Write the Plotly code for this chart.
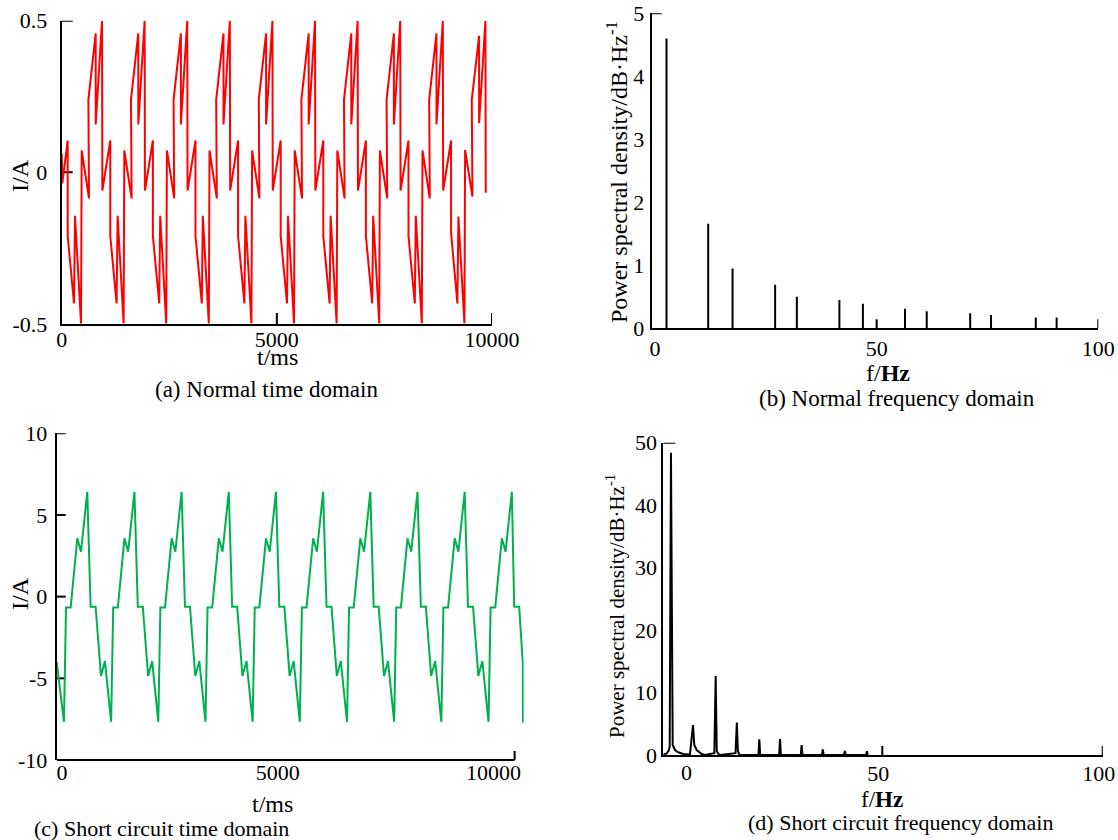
import plotly.graph_objects as go

W, H = 1118, 840
FONT = 'Liberation Serif'

# (a) normal current in the time domain, one row per cycle
NORMAL_T_MS = [
    0, 14,
    139, 139, 286, 309, 449, 465, 635, 620, 790, 790, 937, 945,
    1129, 1129, 1276, 1299, 1439, 1455, 1625, 1610, 1780, 1780, 1927, 1935,
    2119, 2119, 2266, 2289, 2429, 2445, 2615, 2600, 2770, 2770, 2917, 2925,
    3109, 3109, 3256, 3279, 3419, 3435, 3605, 3590, 3760, 3760, 3907, 3915,
    4099, 4099, 4246, 4269, 4409, 4425, 4595, 4580, 4750, 4750, 4897, 4905,
    5089, 5089, 5236, 5259, 5399, 5415, 5585, 5570, 5740, 5740, 5887, 5895,
    6079, 6079, 6226, 6249, 6389, 6405, 6575, 6560, 6730, 6730, 6877, 6885,
    7069, 7069, 7216, 7239, 7379, 7395, 7565, 7550, 7720, 7720, 7867, 7875,
    8059, 8059, 8206, 8229, 8369, 8385, 8555, 8540, 8710, 8710, 8857, 8865,
    9049, 9049, 9196, 9219, 9359, 9375, 9545, 9530, 9700, 9700, 9847, 9855,
]
NORMAL_I_A = [
    0.063, -0.036,
    0.105, -0.21, -0.432, -0.143, -0.498, 0.072, -0.086, 0.239, 0.458, 0.158, 0.5, -0.06,
    0.105, -0.21, -0.432, -0.143, -0.498, 0.072, -0.086, 0.239, 0.458, 0.158, 0.5, -0.06,
    0.105, -0.21, -0.432, -0.143, -0.498, 0.072, -0.086, 0.239, 0.458, 0.158, 0.5, -0.06,
    0.105, -0.21, -0.432, -0.143, -0.498, 0.072, -0.086, 0.239, 0.458, 0.158, 0.5, -0.06,
    0.105, -0.21, -0.432, -0.143, -0.498, 0.072, -0.086, 0.239, 0.458, 0.158, 0.5, -0.06,
    0.105, -0.21, -0.432, -0.143, -0.498, 0.072, -0.086, 0.239, 0.458, 0.158, 0.5, -0.06,
    0.105, -0.21, -0.432, -0.143, -0.498, 0.072, -0.086, 0.239, 0.458, 0.158, 0.5, -0.06,
    0.105, -0.21, -0.432, -0.143, -0.498, 0.072, -0.086, 0.239, 0.458, 0.158, 0.5, -0.06,
    0.105, -0.21, -0.432, -0.143, -0.498, 0.072, -0.086, 0.239, 0.458, 0.158, 0.5, -0.06,
    0.105, -0.2, -0.432, -0.146, -0.498, 0.074, -0.08, 0.239, 0.45, 0.162, 0.5, -0.067,
]

# (c) short circuit current in the time domain
SHORT_T_MS = [
    -120,
    48, 96, 204, 357, 443, 588, 666, 782, 905, 998,
    1141, 1189, 1297, 1450, 1536, 1681, 1759, 1875, 1998, 2091,
    2234, 2282, 2390, 2543, 2629, 2774, 2852, 2968, 3091, 3184,
    3327, 3375, 3483, 3636, 3722, 3867, 3945, 4061, 4184, 4277,
    4420, 4468, 4576, 4729, 4815, 4960, 5038, 5154, 5277, 5370,
    5513, 5561, 5669, 5822, 5908, 6053, 6131, 6247, 6370, 6463,
    6606, 6654, 6762, 6915, 7001, 7146, 7224, 7340, 7463, 7556,
    7699, 7747, 7855, 8008, 8094, 8239, 8317, 8433, 8556, 8649,
    8792, 8840, 8948, 9101, 9187, 9332, 9410, 9526, 9649, 9742,
    9885, 9933, 10041, 10194, 10280, 10425, 10480, 10595, 10680, 10684,
]
SHORT_I_A = [
    -4.0,
    -7.66, -0.66, -0.66, 3.57, 2.75, 6.42, -0.62, -0.62, -4.85, -3.95,
    -7.66, -0.66, -0.66, 3.57, 2.75, 6.42, -0.62, -0.62, -4.85, -3.95,
    -7.66, -0.66, -0.66, 3.57, 2.75, 6.42, -0.62, -0.62, -4.85, -3.95,
    -7.66, -0.66, -0.66, 3.57, 2.75, 6.42, -0.62, -0.62, -4.85, -3.95,
    -7.66, -0.66, -0.66, 3.57, 2.75, 6.42, -0.62, -0.62, -4.85, -3.95,
    -7.66, -0.66, -0.66, 3.57, 2.75, 6.42, -0.62, -0.62, -4.85, -3.95,
    -7.66, -0.66, -0.66, 3.57, 2.75, 6.42, -0.62, -0.62, -4.85, -3.95,
    -7.66, -0.66, -0.66, 3.57, 2.75, 6.42, -0.62, -0.62, -4.85, -3.95,
    -7.66, -0.66, -0.66, 3.57, 2.75, 6.42, -0.62, -0.62, -4.85, -3.95,
    -7.66, -0.66, -0.66, 3.57, 2.75, 6.42, -0.62, -0.62, -4.1, -7.7,
]

# (b) normal spectrum: spectral lines
NORMAL_F_HZ = [2.6, 12.0, 17.5, 27.1, 32.0, 41.6, 46.9, 56.4, 61.3, 71.1, 75.8, 85.9, 90.6]
NORMAL_PSD = [4.6, 1.66, 0.95, 0.69, 0.5, 0.45, 0.39, 0.31, 0.27, 0.24, 0.21, 0.17, 0.17]

# (d) short circuit spectrum, sampled along the curve
SHORT_F_HZ = [
    0.32, 1.09, 1.54, 1.77, 2.06, 2.45, 2.97, 3.72, 4.85, 6.37,
    7.06, 7.35, 7.9, 9.03, 9.78,
    11.9, 12.2, 12.45, 12.8, 13.2,
    16.7, 17.0, 17.25, 17.6,
    21.9, 22.1, 22.3,
    26.6, 26.8, 27.0,
    31.5, 31.7, 31.9,
    36.3, 36.5, 36.7,
    41.3, 41.5, 41.7,
    46.3, 46.5, 46.7,
]
SHORT_PSD = [
    0.05, 0.27, 0.7, 1.3, 48.4, 1.6, 0.8, 0.43, 0.16, 0.1,
    4.8, 1.6, 0.8, 0.16, 0,
    0.3, 12.65, 0.6, 0.2, 0,
    0.3, 5.2, 0.6, 0,
    0, 2.5, 0,
    0, 2.55, 0,
    0, 1.6, 0,
    0, 0.9, 0,
    0, 0.64, 0,
    0, 0.6, 0,
]

T_TICKS = [0, 5000, 10000]
T_TICKTEXT = ['0', '5000', '10000']
I_NORMAL_TICKS = [-0.5, 0, 0.5]
I_NORMAL_TICKTEXT = ['-0.5', '0', '0.5']
I_SHORT_TICKS = [-10, -5, 0, 5, 10]
I_SHORT_TICKTEXT = ['-10', '-5', '0', '5', '10']
F_TICKS = [0, 50, 100]
PSD_NORMAL_TICKS = [0, 1, 2, 3, 4, 5]
PSD_SHORT_TICKS = [0, 10, 20, 30, 40, 50]

PSD_TITLE = 'Power spectral density/dB·Hz<sup>-1</sup>'


def px_x(left, right):
    return [left / W, right / W]


def px_y(top, bottom):
    return [1 - bottom / H, 1 - top / H]


fig = go.Figure()

fig.add_trace(go.Scatter(x=NORMAL_T_MS, y=NORMAL_I_A, mode='lines',
                         line=dict(color='#ff0000', width=2), xaxis='x', yaxis='y'))
fig.add_trace(go.Scatter(x=SHORT_T_MS, y=SHORT_I_A, mode='lines',
                         line=dict(color='#00b050', width=2), xaxis='x3', yaxis='y3'))

# spectral lines of (b) as vertical segments
seg_x, seg_y = [], []
for f, p in zip(NORMAL_F_HZ, NORMAL_PSD):
    seg_x += [f, f, None]
    seg_y += [0, p, None]
fig.add_trace(go.Scatter(x=seg_x, y=seg_y, mode='lines',
                         line=dict(color='black', width=2), xaxis='x2', yaxis='y2'))
fig.add_trace(go.Scatter(x=SHORT_F_HZ, y=SHORT_PSD, mode='lines',
                         line=dict(color='black', width=2), xaxis='x4', yaxis='y4'))

axis_common = dict(showline=True, linecolor='black', linewidth=2, ticks='',
                   showgrid=False, zeroline=False, automargin=False,
                   ticklabeloverflow='allow',
                   tickfont=dict(family=FONT, size=22, color='black'))

fig.update_layout(
    template='none',
    width=W, height=H,
    margin=dict(l=0, r=0, t=0, b=0, pad=0),
    paper_bgcolor='white', plot_bgcolor='rgba(0,0,0,0)',
    showlegend=False,
    font=dict(family=FONT, color='black'),
    xaxis=dict(axis_common, domain=px_x(61.7, 492), range=[0, 10000], anchor='y',
               tickvals=T_TICKS, ticktext=T_TICKTEXT, ticklabelstandoff=-5),
    yaxis=dict(axis_common, domain=px_y(20.7, 324), range=[-0.5, 0.5], anchor='x',
               tickvals=I_NORMAL_TICKS, ticktext=I_NORMAL_TICKTEXT, ticklabelstandoff=8),
    xaxis2=dict(axis_common, domain=px_x(651.7, 1098.3), range=[-0.74, 100], anchor='y2',
                tickvals=F_TICKS, ticklabelstandoff=-1),
    yaxis2=dict(axis_common, domain=px_y(13.3, 328.3), range=[0, 5], anchor='x2',
                tickvals=PSD_NORMAL_TICKS, ticklabelstandoff=1),
    xaxis3=dict(axis_common, domain=px_x(56.7, 523.7), range=[-120, 10700], anchor='y3',
                showline=False, tickvals=T_TICKS, ticktext=T_TICKTEXT, ticklabelstandoff=-3),
    yaxis3=dict(axis_common, domain=px_y(433.3, 760), range=[-10, 10], anchor='x3',
                tickvals=I_SHORT_TICKS, ticktext=I_SHORT_TICKTEXT, ticklabelstandoff=3),
    xaxis4=dict(axis_common, domain=px_x(663.3, 1102.8), range=[0.32, 100.02], anchor='y4',
                tickvals=F_TICKS[1:], ticklabelstandoff=-2, ticklabelshift=-4),
    yaxis4=dict(axis_common, domain=px_y(442.7, 755), range=[0, 50], anchor='x4',
                tickvals=PSD_SHORT_TICKS, ticklabelstandoff=0),
)

# inward tick marks only where the original has them
shapes = []


def xtick(ax, x, length, plot_h):
    shapes.append(dict(type='line', layer='below', xref=ax, yref='y' + ax[1:] + ' domain',
                       x0=x, x1=x, y0=0, y1=length / plot_h,
                       line=dict(color='black', width=2)))


def ytick(ax, y, length, plot_w):
    shapes.append(dict(type='line', layer='below', yref=ax, xref='x' + ax[1:] + ' domain',
                       x0=0, x1=length / plot_w, y0=y, y1=y,
                       line=dict(color='black', width=2)))


for v in [5000, 10000]:
    xtick('x', v, 11, 303.3)
for v in [0, 0.5]:
    ytick('y', v, 11, 430.3)
for v in [50, 100]:
    xtick('x2', v, 9, 315)
ytick('y2', 5, 10, 446.6)
xtick('x3', 10490, 9, 326.7)
for v in [-5, 0, 5, 10]:
    ytick('y3', v, 9, 467)
for v in [50, 100]:
    xtick('x4', v, 9, 312.3)
ytick('y4', 50, 12, 439.4)
# x axis line of (c) stops at its end mark
shapes.append(dict(type='line', layer='below', xref='x3', yref='y3 domain',
                   x0=-120, x1=10490, y0=0, y1=0, line=dict(color='black', width=2)))
fig.update_layout(shapes=shapes)


def label(text, x, y, size=23, angle=0):
    fig.add_annotation(text=text, x=x / W, y=1 - y / H, xref='paper', yref='paper',
                       showarrow=False, textangle=angle, xanchor='center', yanchor='middle',
                       font=dict(family=FONT, size=size, color='black'))


label('I/A', 20, 176, 24, -90)
label('t/ms', 277, 357, 24)
label('(a) Normal time domain', 266, 389)
label(PSD_TITLE, 617, 172, 24, -90)
label('f/<b>Hz</b>', 888, 373, 24)
label('(b) Normal frequency domain', 897, 398)
label('I/A', 20, 594, 24, -90)
label('t/ms', 272, 804, 24)
label('(c) Short circuit time domain', 161, 828, 22)
label(PSD_TITLE, 615, 606, 21, -90)
label('f/<b>Hz</b>', 882, 799, 23)
label('(d) Short circuit frequency domain', 900, 822, 22)
# the "0" of (d) sits right of the axis corner in the original
label('0', 686, 772, 22)

# the page body keeps its default 8px margin otherwise
fig.write_html('out.html', config={'displayModeBar': False},
               post_script="document.body.style.margin = '0';")
